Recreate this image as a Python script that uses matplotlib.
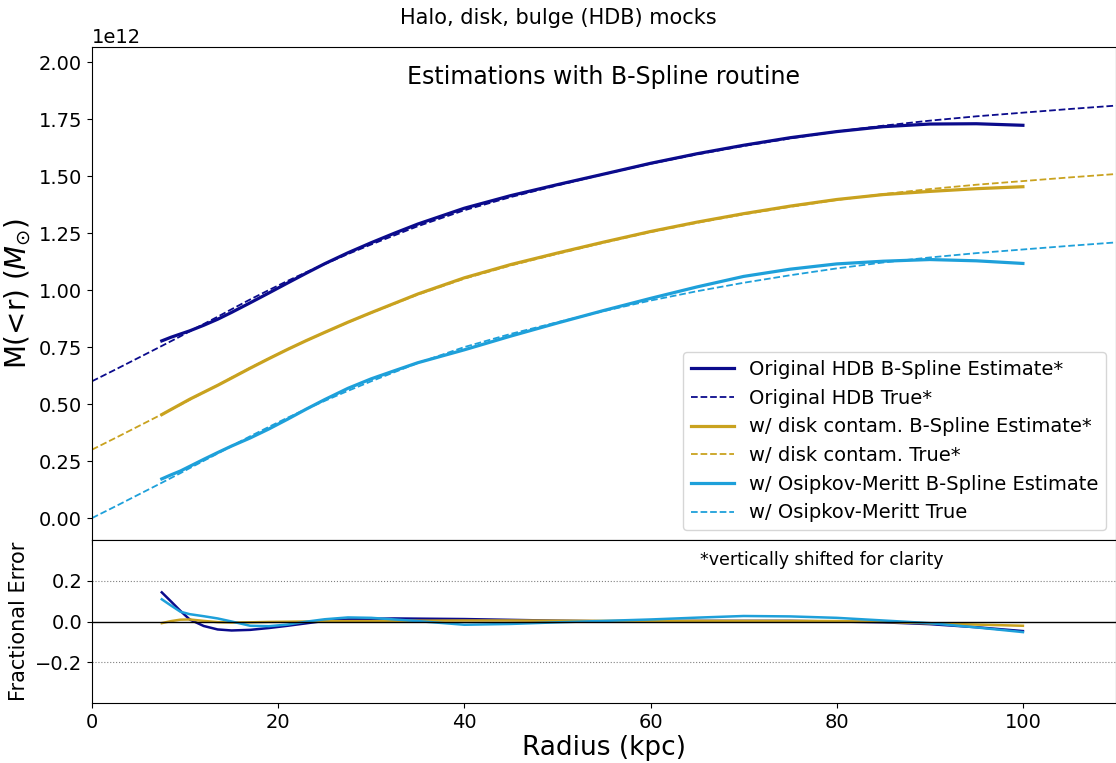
import matplotlib
matplotlib.use('Agg')
import matplotlib.pyplot as plt
import numpy as np

radius = np.array([0, 2.5, 5, 7.5, 8.5, 9.5, 10.5, 12, 13.5, 15, 17, 19, 21, 23, 25,
                   27.5, 30, 32.5, 35, 40, 45, 50, 55, 60, 65, 70, 75, 80, 85, 90,
                   95, 100, 105, 110])
# true M(<r), units of 1e12 Msun (same for all three mocks before shifting)
m_true = np.array([0.000, 0.051, 0.103, 0.155, 0.176, 0.197, 0.219, 0.251, 0.283,
                   0.316, 0.359, 0.400, 0.440, 0.478, 0.514, 0.558, 0.600, 0.640,
                   0.680, 0.750, 0.808, 0.859, 0.908, 0.954, 0.995, 1.032, 1.065,
                   1.095, 1.121, 1.143, 1.162, 1.178, 1.194, 1.209])

# the B-spline estimates cover 7.5 - 100 kpc
est_slice = slice(3, 32)

# fractional errors (est - true)/true
frac_hdb = np.array([0.143, 0.098, 0.052, 0.010, -0.022, -0.039, -0.044, -0.041, -0.032,
                     -0.021, -0.009, 0.003, 0.010, 0.013, 0.015, 0.014, 0.012, 0.008,
                     0.004, 0.001, 0.002, 0.003, 0.003, 0.003, 0.000, -0.004, -0.013,
                     -0.028, -0.047])
frac_disk = np.array([-0.008, 0.002, 0.009, 0.010, 0.003, -0.003, -0.005, -0.004, -0.002,
                      -0.001, 0.000, 0.001, 0.002, 0.002, 0.003, 0.004, 0.005, 0.005,
                      0.004, 0.003, 0.003, 0.003, 0.003, 0.003, 0.002, -0.002, -0.009,
                      -0.015, -0.021])
frac_om = np.array([0.109, 0.078, 0.048, 0.036, 0.026, 0.015, 0.000, -0.021, -0.023,
                    -0.015, -0.001, 0.011, 0.020, 0.018, 0.010, 0.002, -0.016, -0.012,
                    -0.004, 0.003, 0.010, 0.019, 0.027, 0.025, 0.018, 0.005, -0.008,
                    -0.029, -0.052])

# vertical shifts for clarity
shifts = [0.6, 0.3, 0.0]
labels = ['Original HDB', 'w/ disk contam.', 'w/ Osipkov-Meritt']
stars = ['*', '*', '']
colors = ['#0b0b8c', '#c9a21f', '#1ea0da']
fracs = [frac_hdb, frac_disk, frac_om]

fig = plt.figure(figsize=(11.16, 7.63), dpi=100)
ax1 = fig.add_axes([0.0824, 0.2923, 0.9176, 0.6461])
ax2 = fig.add_axes([0.0824, 0.0786, 0.9176, 0.2137], sharex=ax1)

r_est = radius[est_slice]
for lab, st, c, shift, fr in zip(labels, stars, colors, shifts, fracs):
    m_est = m_true[est_slice] * (1 + fr)
    ax1.plot(r_est, (m_est + shift) * 1e12, color=c, lw=2.3,
             label=lab + ' B-Spline Estimate' + st)
    ax1.plot(radius, (m_true + shift) * 1e12, color=c, lw=1.3, ls='--',
             label=lab + ' True' + st)
    ax2.plot(r_est, fr, color=c, lw=1.8)

ax1.set_xlim(0, 110)
ax1.set_ylim(-0.096e12, 2.066e12)
ax1.set_yticks(np.arange(0, 2.01, 0.25) * 1e12)
ax1.tick_params(labelsize=14, labelbottom=False)
ax1.yaxis.get_offset_text().set_fontsize(14)
ax1.set_ylabel(r'M(<r) ($M_{\odot}$)', fontsize=20)
ax1.text(0.5, 0.94, 'Estimations with B-Spline routine', transform=ax1.transAxes,
         ha='center', va='center', fontsize=17)
ax1.legend(loc='lower right', fontsize=14, handlelength=2.2)

ax2.axhline(0, color='black', lw=1)
ax2.axhline(0.2, color='gray', lw=0.8, ls=':')
ax2.axhline(-0.2, color='gray', lw=0.8, ls=':')
ax2.set_ylim(-0.4, 0.4)
ax2.set_yticks([-0.2, 0.0, 0.2])
ax2.tick_params(labelsize=14)
ax2.set_ylabel('Fractional Error', fontsize=15)
ax2.set_xlabel('Radius (kpc)', fontsize=19, labelpad=2)
ax2.text(0.594, 0.93, '*vertically shifted for clarity', transform=ax2.transAxes,
         ha='left', va='top', fontsize=12.5)

fig.suptitle('Halo, disk, bulge (HDB) mocks', x=0.5, y=0.99, fontsize=15)

fig.savefig('out.png', dpi=100)
